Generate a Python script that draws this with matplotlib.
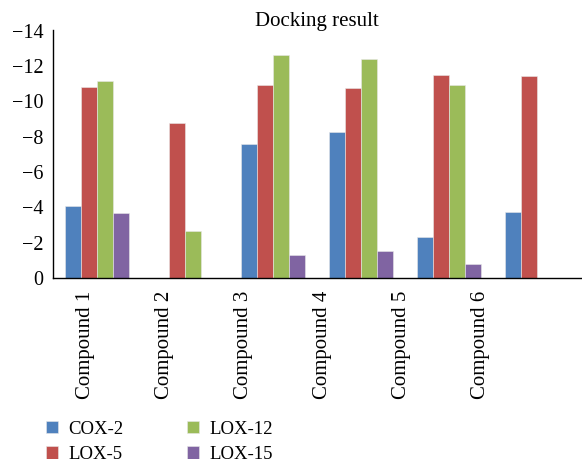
import numpy as np
import matplotlib
matplotlib.use("Agg")
import matplotlib.pyplot as plt
from matplotlib.ticker import FuncFormatter

plt.rcParams['font.family'] = ['Liberation Serif', 'DejaVu Serif']

categories = ["Compound 1", "Compound 2", "Compound 3", "Compound 4", "Compound 5", "Compound 6"]
series_names = ["COX-2", "LOX-5", "LOX-12", "LOX-15"]
cox2 = [-4.1, np.nan, -7.6, -8.27, -2.32, -3.75]
lox5 = [-10.8, -8.77, -10.94, -10.77, -11.47, -11.43]
lox12 = [-11.15, -2.67, -12.6, -12.37, -10.9, np.nan]
lox15 = [-3.7, np.nan, -1.28, -1.54, -0.77, np.nan]
yticks = [0, -2, -4, -6, -8, -10, -12, -14]

colors = ["#4F81BD", "#C0504D", "#9BBB59", "#8064A2"]
series = [cox2, lox5, lox12, lox15]

fig = plt.figure(figsize=(5.82, 4.59), dpi=100)
ax = fig.add_axes([53/582, 1-278/459, 528/582, 247.5/459])

x = np.arange(len(categories))
w = 0.18
for k, (vals, c, name) in enumerate(zip(series, colors, series_names)):
    ax.bar(x + (k - 1.5) * w, vals, width=w, color=c, edgecolor="#e8e8e8",
           linewidth=0.4, label=name)

ax.set_xlim(-0.5, len(categories) - 0.5)
ax.set_ylim(0, -14)
ax.set_yticks(yticks)
ax.yaxis.set_major_formatter(FuncFormatter(lambda v, p: f"{v:.0f}".replace("-", "\u2212")))
ax.tick_params(axis="y", length=0, pad=7, labelsize=14.5)

# tick labels in the reference sit slightly left of group centres
label_pos = -0.13 + 0.898 * x
ax.set_xticks(label_pos)
ax.set_xticklabels(categories, rotation=90, fontsize=15)
ax.tick_params(axis="x", length=0, pad=9)

for s in ["top", "right"]:
    ax.spines[s].set_visible(False)
ax.spines["left"].set_linewidth(1.0)
ax.spines["bottom"].set_linewidth(1.0)

ax.set_title("Docking result", fontsize=15, pad=1)

leg = fig.legend(loc="upper left", bbox_to_anchor=(38/582, 1-413/459), ncol=2,
                 frameon=False, fontsize=13.5, handlelength=0.65, handleheight=0.65,
                 handletextpad=0.55, columnspacing=3.4, labelspacing=0.45, borderaxespad=0)

fig.savefig("out.png", dpi=100)
